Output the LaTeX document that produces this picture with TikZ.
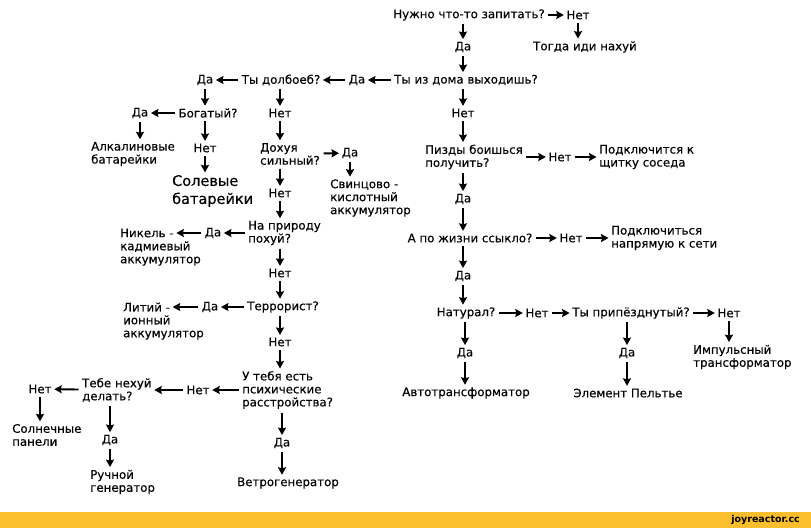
\documentclass[tikz,border=0pt]{standalone}
\usepackage{fontspec}
\setmainfont{DejaVu Sans}[FakeBold=0.3]
\newfontfamily\joyfont{DejaVu Sans}
\usetikzlibrary{arrows.meta}
\definecolor{joy}{RGB}{252,190,45}
\tikzset{
  t/.style={font=\fontsize{11.8}{13}\selectfont, inner sep=0pt, align=left},
  tl/.style={t, anchor=west},
  big/.style={font=\fontsize{14.5}{18}\selectfont, inner sep=0pt, align=left, anchor=west},
  arr/.style={line width=1.9pt, -{Stealth[length=7.5pt,width=8pt,inset=1pt]}, shorten <=3.5pt, shorten >=2.5pt},
}
\begin{document}
\begin{tikzpicture}[x=1pt,y=-1pt]
\useasboundingbox (0,0) rectangle (811,528);
\fill[white] (0,0) rectangle (811,512);
\fill[joy] (0,512) rectangle (811,528);
\node[font=\joyfont\bfseries\fontsize{9.5}{11}\selectfont, inner sep=0pt, anchor=east] (joy) at (800,520) {joyreactor.cc};

% top
\node[t] (n1) at (469,15) {Нужно что-то запитать?};
\node[t] (n1no) at (578,15) {Нет};
\node[t] (n1end) at (585,47) {Тогда иди нахуй};
\node[t] (n1yes) at (463,47) {Да};
\node[t] (n2) at (466,80) {Ты из дома выходишь?};
\node[t] (n2yes) at (357,80) {Да};
\node[t] (n3) at (281,80) {Ты долбоеб?};
\node[t] (n3yes) at (205,80) {Да};
\node[t] (n4) at (208,113) {Богатый?};
\node[t] (n4yes) at (140,113) {Да};
\node[tl] (alk) at (91,154) {Алкалиновые\\батарейки};
\node[t] (n4no) at (205,148) {Нет};
\node[big] (salt) at (172,191) {Солевые\\батарейки};
\node[t] (n3no) at (280,113) {Нет};
\node[tl] (n5) at (260,154) {Дохуя\\сильный?};
\node[t] (n5yes) at (350,153) {Да};
\node[tl] (lead) at (330,198) {Свинцово -\\кислотный\\аккумулятор};
\node[t] (n5no) at (280,193) {Нет};
\node[tl] (n6) at (248,233) {На природу\\похуй?};
\node[t] (n6yes) at (213,233) {Да};
\node[tl] (nicad1) at (120,233) {Никель -};
\node[tl] (nicad2) at (120,253.5) {кадмиевый\\аккумулятор};
\node[t] (n6no) at (280,273) {Нет};
\node[t] (n7) at (283,307) {Террорист?};
\node[t] (n7yes) at (210,307) {Да};
\node[tl] (li1) at (123,307) {Литий -};
\node[tl] (li2) at (123,327.5) {ионный\\аккумулятор};
\node[t] (n7no) at (280,342) {Нет};
\node[tl] (n8) at (242,390) {У тебя есть\\психические\\расстройства?};
\node[t] (n8no) at (198,390) {Нет};
\node[tl] (n9) at (82,390) {Тебе нехуй\\делать?};
\node[t] (n9no) at (40,389) {Нет};
\node[tl] (sun) at (12,435) {Солнечные\\панели};
\node[t] (n9yes) at (110,440) {Да};
\node[tl] (hand) at (90,482) {Ручной\\генератор};
\node[t] (n8yes) at (282,443) {Да};
\node[t] (wind) at (288,483) {Ветрогенератор};

% right
\node[t] (n2no) at (463,113) {Нет};
\node[tl] (p1) at (425,157) {Пизды боишься\\получить?};
\node[t] (p1no) at (560,157) {Нет};
\node[tl] (p1end) at (599,157) {Подключится к\\щитку соседа};
\node[t] (p1yes) at (463,199) {Да};
\node[t] (p2) at (470,238) {А по жизни ссыкло?};
\node[t] (p2no) at (571,238) {Нет};
\node[tl] (p2end) at (611,238) {Подключиться\\напрямую к сети};
\node[t] (p2yes) at (463,276) {Да};
\node[t] (p3) at (466,313) {Натурал?};
\node[t] (p3no) at (537,313) {Нет};
\node[t] (p4) at (631,313) {Ты припёзднутый?};
\node[t] (p4no) at (729,313) {Нет};
\node[t] (p3yes) at (465,353) {Да};
\node[t] (auto) at (466,393) {Автотрансформатор};
\node[t] (p4yes) at (627,353) {Да};
\node[t] (pelt) at (628,393) {Элемент Пельтье};
\node[tl] (imp) at (693,357) {Импульсный\\трансформатор};

% arrows top
\draw[arr] (n1) -- (n1no);
\draw[arr] (n1no.south) -- (n1no.south |- n1end.north);
\draw[arr] (n1.south -| n1yes) -- (n1yes.north);
\draw[arr] (n1yes.south) -- (n1yes.south |- n2.north);
\draw[arr] (n2) -- (n2yes);
\draw[arr] (n2yes) -- (n3);
\draw[arr] (n3) -- (n3yes);
\draw[arr] (n3yes.south) -- (n3yes.south |- n4.north);
\draw[arr] (n4) -- (n4yes);
\draw[arr] (n4yes.south) -- (n4yes.south |- alk.north);
\draw[arr] (n4.south -| n4no) -- (n4no.north);
\draw[arr] (n4no.south) -- (n4no.south |- salt.north);
\draw[arr] (n3.south -| n3no) -- (n3no.north);
\draw[arr] (n3no.south) -- (n3no.south |- n5.north);
\draw[arr] (n5) -- (n5yes);
\draw[arr] (n5yes.south) -- (n5yes.south |- lead.north);
\draw[arr] (n5.south -| n5no) -- (n5no.north);
\draw[arr] (n5no.south) -- (n5no.south |- n6.north);
\draw[arr] (n6) -- (n6yes);
\draw[arr] (n6yes) -- (nicad1);
\draw[arr] (n6.south -| n6no) -- (n6no.north);
\draw[arr] (n6no.south) -- (n6no.south |- n7.north);
\draw[arr] (n7) -- (n7yes);
\draw[arr] (n7yes) -- (li1);
\draw[arr] (n7.south -| n7no) -- (n7no.north);
\draw[arr] (n7no.south) -- (n7no.south |- n8.north);
\draw[arr] (n8) -- (n8no);
\draw[arr] (n8no) -- (n9);
\draw[arr] (n9) -- (n9no);
\draw[arr] (n9no.south) -- (n9no.south |- sun.north);
\draw[arr] (n9.south -| n9yes) -- (n9yes.north);
\draw[arr] (n9yes.south) -- (n9yes.south |- hand.north);
\draw[arr] (n8.south -| n8yes) -- (n8yes.north);
\draw[arr] (n8yes.south) -- (n8yes.south |- wind.north);

% arrows right
\draw[arr] (n2.south -| n2no) -- (n2no.north);
\draw[arr] (n2no.south) -- (n2no.south |- p1.north);
\draw[arr] (p1) -- (p1no);
\draw[arr] (p1no) -- (p1end);
\draw[arr] (p1.south -| p1yes) -- (p1yes.north);
\draw[arr] (p1yes.south) -- (p1yes.south |- p2.north);
\draw[arr] (p2) -- (p2no);
\draw[arr] (p2no) -- (p2end);
\draw[arr] (p2.south -| p2yes) -- (p2yes.north);
\draw[arr] (p2yes.south) -- (p2yes.south |- p3.north);
\draw[arr] (p3) -- (p3no);
\draw[arr] (p3no) -- (p4);
\draw[arr] (p4) -- (p4no);
\draw[arr] (p3.south -| p3yes) -- (p3yes.north);
\draw[arr] (p3yes.south) -- (p3yes.south |- auto.north);
\draw[arr] (p4.south -| p4yes) -- (p4yes.north);
\draw[arr] (p4yes.south) -- (p4yes.south |- pelt.north);
\draw[arr] (p4no.south) -- (p4no.south |- imp.north);
\end{tikzpicture}
\end{document}
